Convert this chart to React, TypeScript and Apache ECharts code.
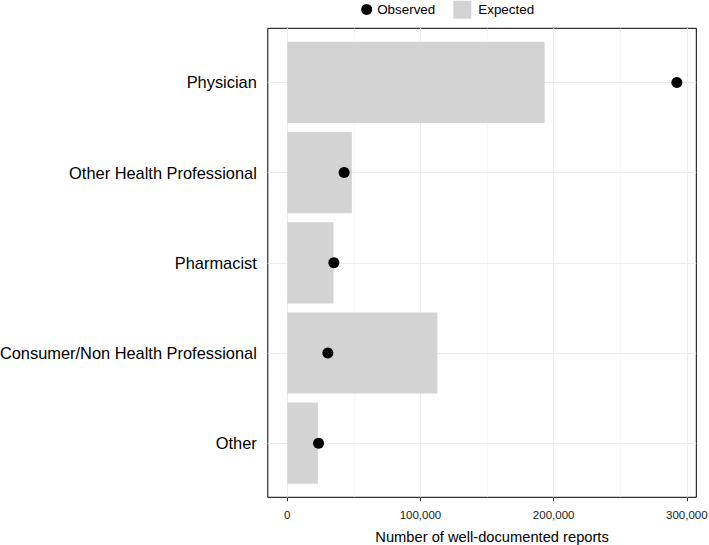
import React, { useEffect, useRef } from "react";
import * as echarts from "echarts";

const categories = [
  "Physician",
  "Other Health Professional",
  "Pharmacist",
  "Consumer/Non Health Professional",
  "Other",
];
const expected = [193200, 48500, 34700, 112700, 23000];
const observed = [292500, 42700, 35000, 30500, 23500];
const xTicks = [0, 100000, 200000, 300000];
const xMinor = [50000, 150000, 250000];
const yTicks = [1, 2, 3, 4, 5];

export default function App() {
  const ref = useRef<HTMLDivElement>(null);
  useEffect(() => {
    if (!ref.current) return;
    const chart = echarts.init(ref.current, undefined, { renderer: "svg" });
    const font = "Liberation Sans, Arial, sans-serif";
    const gridLines: any[] = [
      ...xMinor.map((v) => ({ xAxis: v, lineStyle: { color: "#F3F3F3", width: 0.6, type: "solid" } })),
      ...xTicks.map((v) => ({ xAxis: v, lineStyle: { color: "#ECECEC", width: 1, type: "solid" } })),
      ...yTicks.map((v) => ({ yAxis: v, lineStyle: { color: "#ECECEC", width: 1, type: "solid" } })),
    ];
    chart.setOption({
      animation: false,
      textStyle: { fontFamily: font },
      grid: {
        left: 267.8,
        top: 28.3,
        width: 428.5,
        height: 469,
        show: true,
        borderColor: "#000",
        borderWidth: 1,
        backgroundColor: "transparent",
        containLabel: false,
        outerBoundsMode: "none",
      },
      legend: [
        {
          data: ["Observed"],
          icon: "circle",
          itemWidth: 11,
          itemHeight: 11,
          left: 361.2,
          top: 3,
          padding: 0,
          selectedMode: false,
          itemStyle: { opacity: 1 },
          textStyle: { fontSize: 13.4, color: "#000", fontFamily: font },
        },
        {
          data: ["Expected"],
          icon: "rect",
          itemWidth: 18,
          itemHeight: 18,
          left: 453.3,
          top: 0.7,
          padding: 0,
          selectedMode: false,
          textStyle: { fontSize: 13.4, color: "#000", fontFamily: font, padding: [0, 0, 0, 2] },
        },
      ],
      xAxis: {
        type: "value",
        min: -14600,
        max: 307100,
        axisLine: { show: false },
        splitLine: { show: false },
        minorSplitLine: { show: false },
        axisTick: {
          show: true,
          customValues: xTicks,
          length: 4,
          lineStyle: { color: "#333", width: 1 },
        },
        axisLabel: {
          customValues: xTicks,
          fontSize: 11.5,
          color: "#222",
          margin: 12,
          formatter: (v: number) => v.toLocaleString("en-US"),
        },
        name: "Number of well-documented reports",
        nameLocation: "middle",
        nameGap: 32,
        nameTextStyle: { fontSize: 14.7, color: "#000", fontFamily: font, padding: [0, 0, 0, 20] },
      },
      yAxis: {
        type: "value",
        inverse: true,
        min: 0.4,
        max: 5.6,
        axisLine: { show: false },
        splitLine: { show: false },
        axisTick: {
          show: true,
          customValues: yTicks,
          length: 5,
          lineStyle: { color: "#333", width: 1 },
        },
        axisLabel: {
          customValues: yTicks,
          fontSize: 16.4,
          color: "#000",
          margin: 11,
          formatter: (v: number) => categories[Math.round(v) - 1] ?? "",
        },
      },
      series: [
        {
          name: "Expected",
          type: "custom",
          z: 2,
          itemStyle: { color: "#D3D3D3" },
          data: expected.map((v, i) => [v, i + 1]),
          encode: { x: 0, y: 1 },
          renderItem: (params: any, api: any) => {
            const v = api.value(0);
            const y = api.value(1);
            const start = api.coord([0, y]);
            const end = api.coord([v, y]);
            const h = Math.abs(api.size([0, 0.9])[1]);
            return {
              type: "rect",
              shape: { x: start[0], y: start[1] - h / 2, width: end[0] - start[0], height: h },
              style: { fill: "#D3D3D3" },
            };
          },
        },
        {
          name: "Observed",
          type: "scatter",
          z: 3,
          symbol: "circle",
          symbolSize: 11,
          itemStyle: { color: "#000", opacity: 1 },
          data: observed.map((v, i) => [v, i + 1]),
          markLine: {
            z: 1,
            silent: true,
            symbol: ["none", "none"],
            label: { show: false },
            emphasis: { disabled: true },
            data: gridLines,
          },
        },
      ],
    });
    return () => chart.dispose();
  }, []);
  return (
    <div
      ref={ref}
      style={{ position: "absolute", left: 0, top: 0, width: 709, height: 545, background: "#fff" }}
    />
  );
}
